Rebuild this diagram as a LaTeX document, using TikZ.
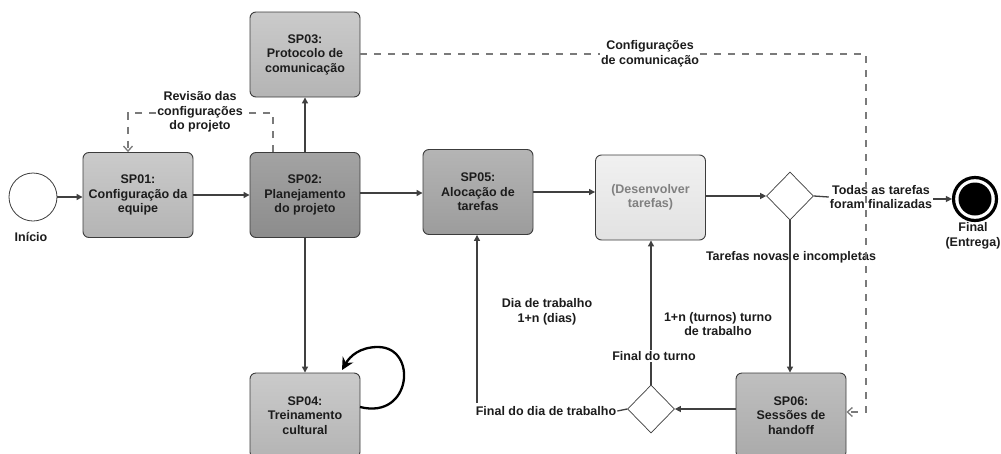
\documentclass[tikz,border=0pt]{standalone}
\usepackage{fontspec}
\setmainfont{Liberation Sans}
\usetikzlibrary{arrows.meta,shapes.geometric}
\definecolor{lnc}{HTML}{404040}
\definecolor{dsc}{HTML}{7A7A7A}
\definecolor{bordc}{HTML}{3C3C3C}
\definecolor{fillA}{HTML}{B4B4B4}
\definecolor{fillB}{HTML}{8C8C8C}
\definecolor{fillC}{HTML}{9C9C9C}
\definecolor{fillD}{HTML}{AAAAAA}
\definecolor{fillE}{HTML}{E2E2E2}
\definecolor{txtc}{HTML}{1C1C1C}
\tikzset{
  procbox/.style={draw=bordc, line width=0.9pt, rounded corners=6pt, minimum width=110pt, minimum height=85pt,
    align=center, font=\fontsize{12.5}{14.5}\selectfont\bfseries, text=txtc, inner sep=2pt},
  lbl/.style={align=center, font=\fontsize{12.5}{14.5}\selectfont\bfseries, text=txtc, inner sep=1pt},
  gate/.style={diamond, draw=bordc, line width=0.7pt, fill=white, minimum width=47pt, minimum height=48pt, inner sep=0pt},
  arr/.style={draw=lnc, line width=1.3pt, -{Triangle[length=6pt,width=6pt]}},
  ln/.style={draw=lnc, line width=1.3pt},
  dsh/.style={draw=dsc, line width=1.3pt, dash pattern=on 7pt off 7pt},
  dsharr/.style={dsh, -{Straight Barb[length=5pt,width=9pt,line width=1.3pt]}},
}
\begin{document}
\begin{tikzpicture}[x=1pt,y=-1pt]
\useasboundingbox[fill=white] (0,0) rectangle (1001,453);
% start
\node[circle, draw=bordc, line width=0.8pt, fill=white, minimum size=48pt, inner sep=0pt] (inicio) at (33,197) {};
\node[lbl] (inicioL) at (31,237) {Início};
% boxes
\node[procbox, top color=fillA!70!white, bottom color=fillA] (sp01) at (138,195) {SP01:\\Configuração da\\equipe};
\node[procbox, top color=fillB!80!white, bottom color=fillB] (sp02) at (305,195) {SP02:\\Planejamento\\do projeto};
\node[procbox, top color=fillA!70!white, bottom color=fillA] (sp03) at (305,54.5) {SP03:\\Protocolo de\\comunicação};
\node[procbox, top color=fillA!70!white, bottom color=fillA] (sp04) at (305,415.5) {SP04:\\Treinamento\\cultural};
\node[procbox, top color=fillC!75!white, bottom color=fillC] (sp05) at (478,192) {SP05:\\Alocação de\\tarefas};
\node[procbox, top color=fillE!50!white, bottom color=fillE, text=black!50] (dev) at (650.5,197.5) {(Desenvolver\\tarefas)};
\node[procbox, top color=fillD!75!white, bottom color=fillD] (sp06) at (791,415.5) {SP06:\\Sessões de\\handoff};
% gateways
\node[gate] (d1) at (790,196) {};
\node[gate] (d2) at (651,409) {};
% end
\node[circle, draw=black, line width=3.2pt, fill=white, minimum size=43pt, inner sep=0pt] (fin) at (975,199) {};
\node[circle, fill=black, minimum size=33pt, inner sep=0pt] (finc) at (fin) {};
\node[lbl] (finL) at (973,236) {Final\\(Entrega)};
% labels
\node[lbl] (rv) at (200,112) {Revisão das\\configurações\\do projeto};
\node[lbl] (cc) at (650,54) {Configurações\\de comunicação};
\node[lbl] (tt) at (881,197) {Todas as tarefas\\foram finalizadas};
\node[lbl] (tn) at (791,257) {Tarefas novas e incompletas};
\node[lbl] (dt) at (547,312) {Dia de trabalho\\1+n (dias)};
\node[lbl] (tr) at (718,324) {1+n (turnos) turno\\de trabalho};
\node[lbl] (ft) at (654,356) {Final do turno};
\node[lbl] (fd) at (546,411) {Final do dia de trabalho};
% solid connectors
\draw[arr] (inicio.east) -- (sp01.west |- inicio.east);
\draw[arr] (sp01.east) -- (sp02.west);
\draw[arr] (sp02.north) -- (sp02.north |- sp03.south);
\draw[arr] (sp02.south) -- (sp02.south |- sp04.north);
\draw[arr] (sp02.east |- 0,193) -- (sp05.west |- 0,193);
\draw[arr] (sp05.east) -- (sp05.east -| dev.west);
\draw[arr] (dev.east |- d1.west) -- (d1.west);
\draw[ln] (d1.east) -- (tt.west);
\draw[arr] (tt.east |- fin.west) -- (fin.west);
\draw[arr] (d1.south) -- (d1.south |- sp06.north);
\draw[arr] (sp06.west |- d2.east) -- (d2.east);
\draw[ln] (d2.north) -- (d2.north |- ft.south);
\draw[arr] (d2.north |- ft.north) -- (d2.north |- dev.south);
\draw[ln] (d2.west) -- (fd.east);
\coordinate (fdtop) at (477,403);
\draw[arr] (fdtop) -- (fdtop |- sp05.south);
% self loop on SP04
\draw[black, line width=2.3pt, -{Stealth[length=12pt,width=12pt]}] (360,407) .. controls (412,420) and (418,347) .. (378,347) .. controls (360,347) and (350,356) .. (342,370);
% dashed connectors
\coordinate (r1) at (273,113);
\coordinate (r2) at (128,113);
\draw[dsh] (r1 |- sp02.north) -- (r1) -- (rv.east |- r1);
\draw[dsharr] (rv.west |- r2) -- (r2) -- (r2 |- sp01.north);
\coordinate (k1) at (866,54);
\coordinate (k2) at (866,412);
\draw[dsh] (sp03.east |- k1) -- (cc.west |- k1);
\draw[dsharr] (cc.east |- k1) -- (k1) -- (k2) -- (sp06.east |- k2);
\end{tikzpicture}
\end{document}
